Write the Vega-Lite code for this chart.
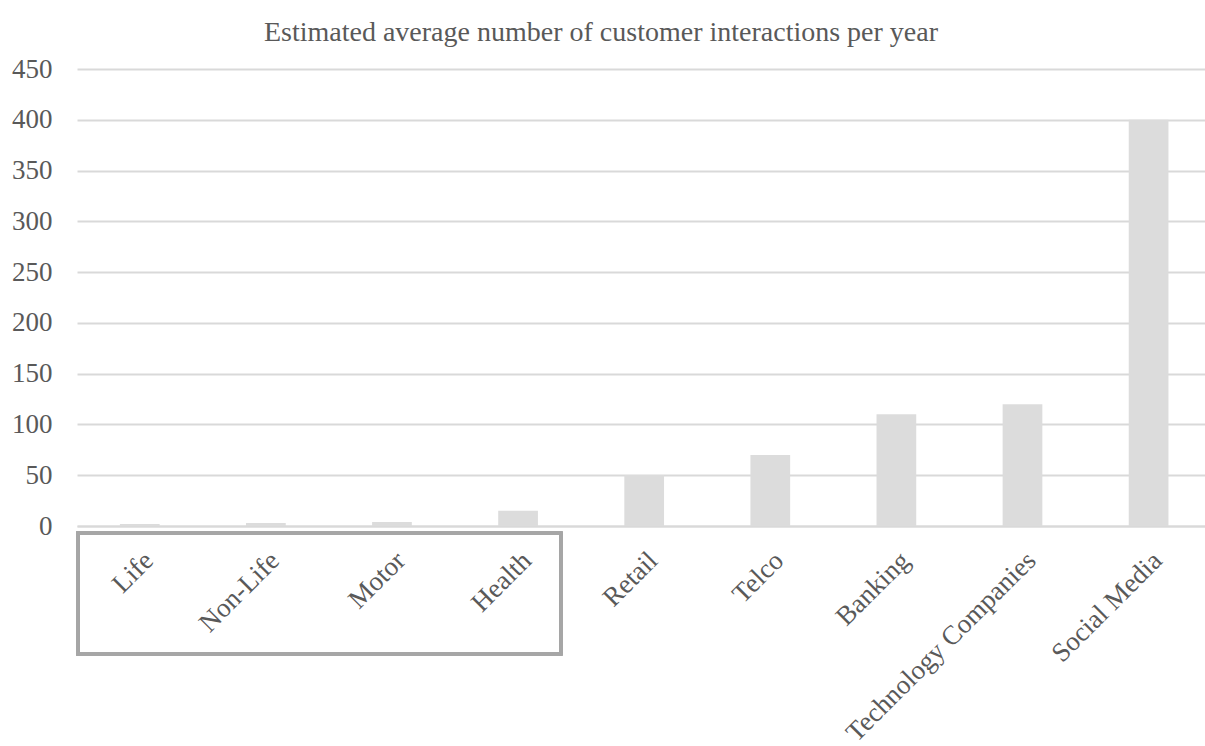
{
  "$schema": "https://vega.github.io/schema/vega-lite/v6.json",
  "autosize": "none",
  "width": 1128,
  "height": 457,
  "padding": {"left": 77, "top": 69, "right": 0, "bottom": 220},
  "background": "white",
  "title": {
    "text": "Estimated average number of customer interactions per year",
    "font": "Liberation Serif",
    "fontSize": 28,
    "fontWeight": "normal",
    "color": "#595959",
    "anchor": "middle",
    "dx": -40,
    "offset": 8
  },
  "config": {"view": {"stroke": null}},
  "data": {
    "values": [
      {"sector": "Life", "value": 2},
      {"sector": "Non-Life", "value": 3},
      {"sector": "Motor", "value": 4},
      {"sector": "Health", "value": 15},
      {"sector": "Retail", "value": 50},
      {"sector": "Telco", "value": 70},
      {"sector": "Banking", "value": 110},
      {"sector": "Technology Companies", "value": 120},
      {"sector": "Social Media", "value": 400}
    ]
  },
  "encoding": {
    "x": {
      "field": "sector",
      "type": "nominal",
      "sort": null,
      "scale": {"paddingInner": 0.685, "paddingOuter": 0.315, "align": 0.54},
      "axis": {
        "title": null,
        "labelAngle": -45,
        "labelFont": "Liberation Serif",
        "labelFontSize": 27,
        "labelColor": "#595959",
        "labelLimit": 500,
        "labelOffset": 0,
        "ticks": false,
        "domain": true,
        "domainColor": "#d9d9d9",
        "domainWidth": 2,
        "labelPadding": 21
      }
    }
  },
  "layer": [
    {
      "mark": {"type": "bar", "color": "#dcdcdc"},
      "encoding": {
        "y": {
          "field": "value",
          "type": "quantitative",
          "scale": {"domain": [0, 450]},
          "axis": {
            "title": null,
            "values": [0, 50, 100, 150, 200, 250, 300, 350, 400, 450],
            "labelFont": "Liberation Serif",
            "labelFontSize": 27,
            "labelColor": "#595959",
            "ticks": false,
            "domain": false,
            "gridColor": "#d9d9d9",
            "gridWidth": 2,
            "labelPadding": 25
          }
        }
      }
    },
    {
      "mark": {"type": "rect", "fill": null, "stroke": "#a6a6a6", "strokeWidth": 3, "xOffset": -42, "x2Offset": 23},
      "encoding": {
        "x": {"datum": "Life", "bandPosition": 0},
        "x2": {"datum": "Health", "bandPosition": 1},
        "y": {"datum": -7},
        "y2": {"datum": -126}
      }
    }
  ]
}
